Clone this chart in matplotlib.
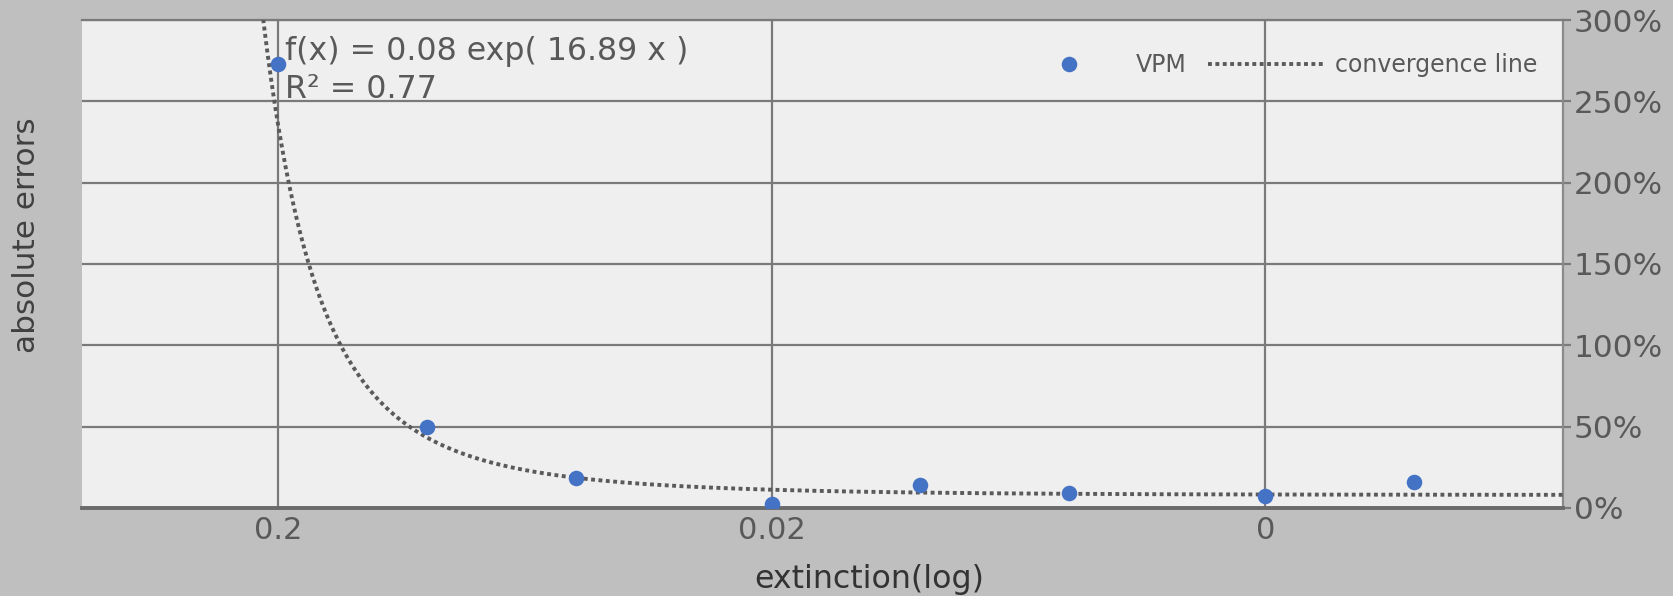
import numpy as np
import matplotlib
matplotlib.use('Agg')
import matplotlib.pyplot as plt
from matplotlib.ticker import FixedLocator, FixedFormatter, PercentFormatter, NullLocator

# extinction values (log axis, decreasing to the right) and absolute errors
extinction = [0.2, 0.1, 0.05, 0.02, 0.01, 0.005, 0.002, 0.001]
abs_errors = [2.73, 0.50, 0.185, 0.025, 0.14, 0.09, 0.075, 0.16]

# exponential fit shown on the chart: f(x) = a * exp(b * x)
fit_a = 0.08
fit_b = 16.89
fit_r2 = 0.77

xticks = [0.2, 0.02, 0.002]
xtick_labels = ['0.2', '0.02', '0']
yticks = [0, 0.5, 1.0, 1.5, 2.0, 2.5, 3.0]

txt = '#595959'
grid_c = '#7a7a7a'

fig = plt.figure(figsize=(8.365, 2.98), dpi=200, facecolor='#bfbfbf')
ax = fig.add_axes([0.049, 0.1477, 0.885, 0.8187])
ax.set_facecolor('#efefef')

xs = np.logspace(np.log10(0.0005), np.log10(0.5), 400)
ax.plot(xs, fit_a * np.exp(fit_b * xs), linestyle=(0, (1, 0.9)), color='#5a5a5a',
        linewidth=1.4, label='convergence line', zorder=3)
ax.plot(extinction, abs_errors, 'o', color='#4472c4', markersize=5.6,
        markeredgewidth=0, label='VPM', zorder=4)

ax.set_xscale('log')
ax.set_xlim(0.5, 0.0005)
ax.set_ylim(0, 3.0)

ax.xaxis.set_major_locator(FixedLocator(xticks))
ax.xaxis.set_major_formatter(FixedFormatter(xtick_labels))
ax.xaxis.set_minor_locator(NullLocator())
ax.set_yticks(yticks)
ax.yaxis.set_major_formatter(PercentFormatter(1.0, decimals=0))
ax.yaxis.tick_right()

ax.tick_params(axis='x', length=0, labelsize=11, labelcolor=txt, pad=3)
ax.tick_params(axis='y', length=3, width=0.8, color=grid_c, labelsize=11.2,
               labelcolor=txt, pad=1)

ax.grid(True, color=grid_c, linewidth=0.8)
ax.set_axisbelow(True)
ax.spines['left'].set_visible(False)
ax.spines['top'].set_color(grid_c)
ax.spines['top'].set_linewidth(0.8)
ax.spines['right'].set_color('#8a8a8a')
ax.spines['right'].set_linewidth(0.8)
ax.spines['bottom'].set_color('#6a6a6a')
ax.spines['bottom'].set_linewidth(1.4)

fig.text(0.532 * 0.885 + 0.049, 0.0285, 'extinction(log)', fontsize=11.4,
         color='#333333', ha='center', va='center')
fig.text(0.016, 0.606, 'absolute errors', rotation=90, fontsize=11.2,
         color='#404040', ha='center', va='center')

ax.text(0.137, 0.968, 'f(x) = %.2f exp( %.2f x )\nR² = %.2f' % (fit_a, fit_b, fit_r2),
        transform=ax.transAxes, ha='left', va='top', fontsize=11.4, color=txt,
        linespacing=1.3)

handles, labels = ax.get_legend_handles_labels()
leg = ax.legend(handles[::-1], labels[::-1], loc='upper right', ncol=2, frameon=False,
                fontsize=8.5, labelcolor=txt, handlelength=5.0, columnspacing=0.9,
                handletextpad=0.35, bbox_to_anchor=(0.997, 0.975))

fig.savefig('out.png', dpi=200, facecolor=fig.get_facecolor())
